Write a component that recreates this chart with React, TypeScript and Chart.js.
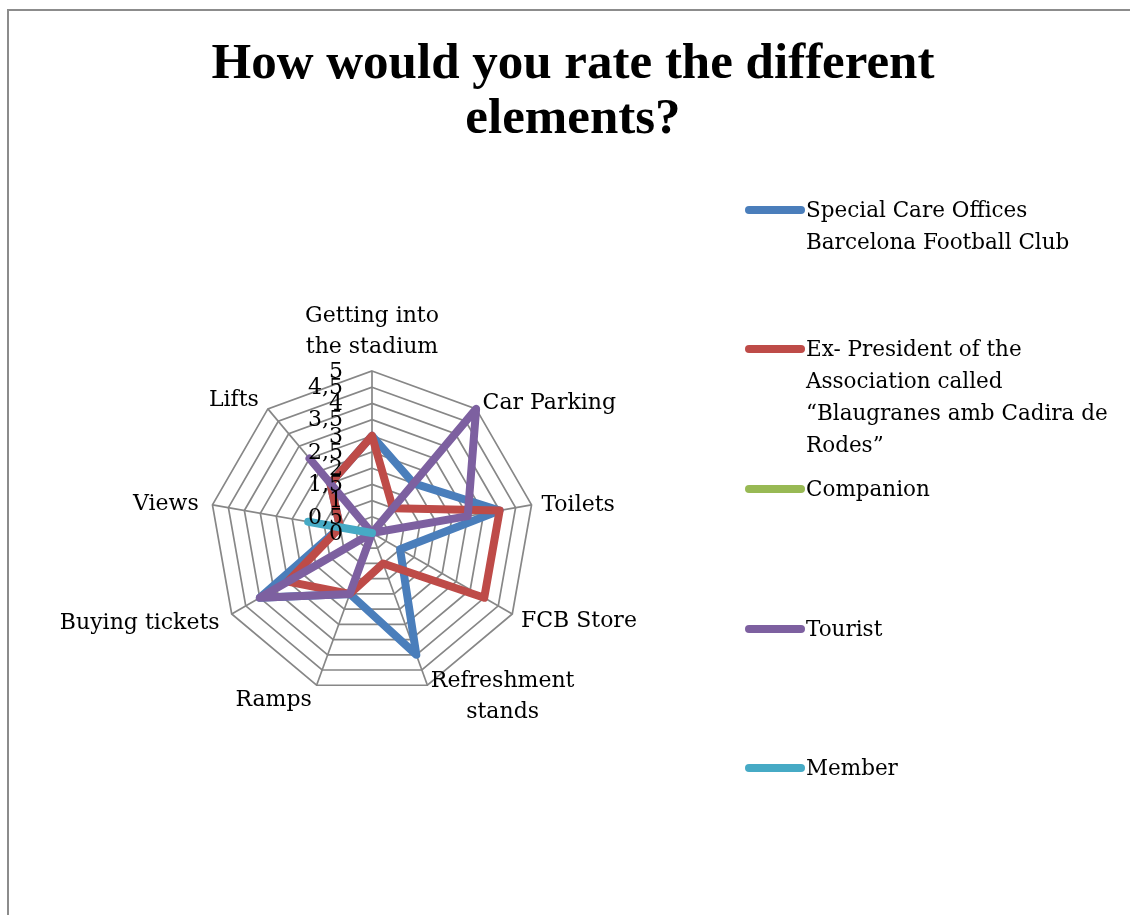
import React, { useEffect, useRef } from 'react';
import { Chart, registerables } from 'chart.js';

Chart.register(...registerables);

const titleLines = ['How would you rate the different', 'elements?'];

const categories = [
  ['Getting into', 'the stadium'],
  'Car Parking',
  'Toilets',
  'FCB Store',
  ['Refreshment', 'stands'],
  'Ramps',
  'Buying tickets',
  'Views',
  'Lifts',
];

const seriesNames = [
  'Special Care Offices Barcelona Football Club',
  'Ex- President of the Association called “Blaugranes amb Cadira de Rodes”',
  'Companion',
  'Tourist',
  'Member',
];

const specialCare = [3, 2, 4, 1, 4, 2, 4, 1, 2];
const exPresident = [3, 1, 4, 4, 1, 2, 3, 1, 2];
const companion = [0, 0, 0, 0, 0, 0, 0, 0, 0];
const tourist = [0, 5, 3, 0, 0, 2, 4, 0, 3];
const member = [0, 0, 0, 0, 0, 0, 0, 2, 0];

const tickLabels = ['0', '0,5', '1', '1,5', '2', '2,5', '3', '3,5', '4', '4,5', '5'];

const seriesColors = ['#4A7EBB', '#BE4B48', '#98B954', '#7D60A0', '#46AAC5'];

const seriesValues = [specialCare, exPresident, companion, tourist, member];

const FONT = '"DejaVu Serif", serif';

const excelLabels = {
  id: 'excelLabels',
  afterDatasetsDraw(chart: any) {
    const scale = chart.scales.r;
    const ctx = chart.ctx as CanvasRenderingContext2D;
    ctx.save();
    ctx.fillStyle = '#000';
    ctx.font = '22px ' + FONT;
    ctx.textBaseline = 'middle';
    ctx.textAlign = 'right';
    scale.ticks.forEach((t: any, i: number) => {
      const d = scale.getDistanceFromCenterForValue(t.value);
      ctx.fillText(tickLabels[i] ?? String(t.value), scale.xCenter - 29, scale.yCenter - d + 1);
    });
    const lh = 31;
    (chart.data.labels as any[]).forEach((lab, i) => {
      const lines: string[] = Array.isArray(lab) ? lab : [lab];
      const ang = scale.getIndexAngle(i);
      const s = Math.sin(ang);
      const p = scale.getPointPosition(i, scale.drawingArea + (s < -0.1 ? 14 : 10));
      const w = Math.max(...lines.map((l) => ctx.measureText(l).width));
      let left: number;
      if (s > 0.1) left = p.x;
      else if (s < -0.1) left = p.x - w;
      else left = p.x - w / 2;
      const h = lines.length * lh;
      let top: number;
      if (Math.abs(s) <= 0.1 && Math.cos(ang) > 0) top = p.y - h + 2;
      else top = p.y - h / 2 + 2;
      ctx.textAlign = 'center';
      lines.forEach((l, k) => ctx.fillText(l, left + w / 2, top + lh * k + lh / 2));
    });
    ctx.restore();
  },
};

const legendCenters = [210, 349, 489, 629, 768];

export default function App() {
  const ref = useRef<HTMLCanvasElement | null>(null);

  useEffect(() => {
    if (!ref.current) return;
    const chart = new Chart(ref.current, {
      type: 'radar',
      data: {
        labels: categories as any,
        datasets: seriesNames.map((name, i) => ({
          label: name,
          data: seriesValues[i],
          borderColor: seriesColors[i],
          backgroundColor: seriesColors[i],
          borderWidth: 8,
          fill: false,
          pointRadius: 0,
          pointHoverRadius: 0,
          order: seriesNames.length - i,
        })),
      },
      options: {
        responsive: false,
        animation: false,
        layout: { padding: { left: 210, top: 371, right: 596, bottom: 220 } },
        plugins: {
          legend: { display: false },
          title: { display: false },
          tooltip: { enabled: false },
        },
        elements: {
          line: { borderJoinStyle: 'round', borderCapStyle: 'round', tension: 0 },
        },
        scales: {
          r: {
            min: 0,
            max: 5,
            startAngle: 0,
            ticks: { stepSize: 0.5, display: false },
            pointLabels: { display: false },
            grid: { color: '#878787', lineWidth: 1.7 },
            angleLines: { color: '#878787', lineWidth: 1.7 },
          },
        },
      },
      plugins: [excelLabels],
    });
    return () => chart.destroy();
  }, []);

  return (
    <div style={{ position: 'absolute', left: 0, top: 0, width: 1130, height: 915, overflow: 'hidden', background: '#fff' }}>
      <div style={{ position: 'absolute', left: 7, top: 9, width: 1400, height: 1200, border: '2px solid #8c8c8c' }} />
      <div
        style={{
          position: 'absolute',
          left: 0,
          top: 34,
          width: 1146,
          textAlign: 'center',
          fontFamily: '"Liberation Serif", serif',
          fontWeight: 'bold',
          fontSize: 51,
          lineHeight: '55px',
          color: '#000',
        }}
      >
        {titleLines.map((l, i) => (
          <div key={i}>{l}</div>
        ))}
      </div>
      <canvas ref={ref} width={1130} height={915} style={{ position: 'absolute', left: 0, top: 0, width: 1130, height: 915 }} />
      {seriesNames.map((name, i) => (
        <div key={i} style={{ position: 'absolute', left: 745, top: legendCenters[i] - 16, width: 380 }}>
          <div
            style={{
              position: 'absolute',
              left: 0,
              top: 12,
              width: 60,
              height: 8,
              borderRadius: 4,
              background: seriesColors[i],
            }}
          />
          <div
            style={{
              position: 'absolute',
              left: 61,
              top: 0,
              width: 320,
              fontFamily: FONT,
              fontSize: 21.5,
              lineHeight: '32px',
              color: '#000',
            }}
          >
            {name}
          </div>
        </div>
      ))}
    </div>
  );
}
